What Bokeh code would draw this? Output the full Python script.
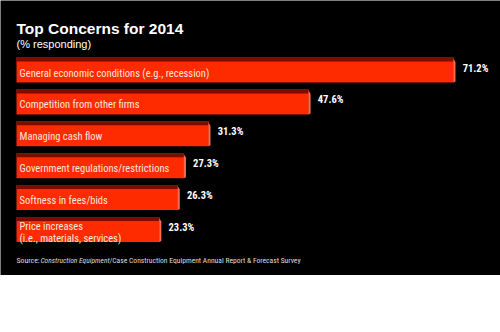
from bokeh.plotting import figure
from bokeh.models import Range1d, Label, ColumnDataSource
from bokeh.core.properties import value
from bokeh.embed import file_html
from bokeh.resources import INLINE

categories = [
    "General economic conditions (e.g., recession)",
    "Competition from other firms",
    "Managing cash flow",
    "Government regulations/restrictions",
    "Softness in fees/bids",
    "Price increases\n(i.e., materials, services)",
]
values = [71.2, 47.6, 31.3, 27.3, 26.3, 23.3]
value_labels = ["71.2%", "47.6%", "31.3%", "27.3%", "26.3%", "23.3%"]

title_text = "Top Concerns for 2014"
subtitle_text = "(% responding)"
source_parts = ["Source:", "Construction Equipment", "/Case Construction Equipment Annual Report & Forecast Survey"]

W, H = 500, 275
PX = 6.14      # px per percent
ROW = 31.9     # px per row
X0 = 16
Y0 = 69.5

NARROW = "Roboto Condensed"

p = figure(width=W, height=H, output_backend="svg", toolbar_location=None,
           x_range=Range1d(-X0 / PX, (W - X0) / PX),
           y_range=Range1d((H - Y0) / ROW, -Y0 / ROW),
           min_border=0, min_border_left=0, min_border_right=0,
           min_border_top=0, min_border_bottom=0)
p.axis.visible = False
p.grid.visible = False
p.outline_line_color = None
p.background_fill_color = "black"
p.border_fill_color = "black"

idx = list(range(len(values)))
bh = 25 / ROW
strip = 4 / ROW
bev = 3 / PX

src = ColumnDataSource(dict(y=idx, v=values, cat=categories, lab=value_labels,
                            ytop=[i - bh / 2 + strip / 2 for i in idx]))

p.hbar(y="y", left=0, right="v", height=bh, source=src,
       fill_color="#fe2a00", line_color=None)
p.hbar(y="ytop", left=0, right="v", height=strip, source=src,
       fill_color="#7a0c00", line_color=None)

xs, ys = [], []
for i, v in zip(idx, values):
    top = i - bh / 2
    bot = i + bh / 2
    xs.append([v - 0.05, v + bev * 0.6, v + bev * 0.6, v - 0.05])
    ys.append([top + strip * 0.3, top + strip * 1.1, bot - 1 / ROW, bot])
p.patches(xs, ys, fill_color="#ff6a50", line_color=None)

p.text(x=0, y="y", text="cat", source=src, x_offset=3, y_offset=3,
       text_font=value(NARROW), text_font_size="10.5px", text_color="#ffe6df",
       text_baseline="middle", text_align="left", text_line_height=0.95)

p.text(x="v", y="y", text="lab", source=src, x_offset=6 + 3, y_offset=-2,
       text_font=value(NARROW), text_font_size="10.5px", text_font_style="bold",
       text_color="white", text_baseline="middle", text_align="left")

p.add_layout(Label(x=X0, y=H - 28, x_units="screen", y_units="screen",
                   text=title_text, text_font="Liberation Sans",
                   text_font_size="15.5px", text_font_style="bold",
                   text_color="white", text_baseline="alphabetic"))
p.add_layout(Label(x=X0, y=H - 43, x_units="screen", y_units="screen",
                   text=subtitle_text, text_font="Liberation Sans",
                   text_font_size="11px", text_color="white",
                   text_baseline="alphabetic"))

p.add_layout(Label(x=X0, y=H - 260, x_units="screen", y_units="screen",
                   text=source_parts[0], text_font=NARROW,
                   text_font_size="7.8px", text_color="#dddddd",
                   text_baseline="alphabetic"))
p.add_layout(Label(x=40, y=H - 260, x_units="screen", y_units="screen",
                   text=source_parts[1], text_font=NARROW,
                   text_font_size="7.5px", text_font_style="italic",
                   text_color="#dddddd", text_baseline="alphabetic"))
p.add_layout(Label(x=109, y=H - 260, x_units="screen", y_units="screen",
                   text=source_parts[2], text_font=NARROW,
                   text_font_size="7.6px", text_color="#dddddd",
                   text_baseline="alphabetic"))

html = file_html(p, INLINE)
html = html.replace("<body>", "<body style=\"margin:0;background:white;\">")
open("out.html", "w").write(html)
